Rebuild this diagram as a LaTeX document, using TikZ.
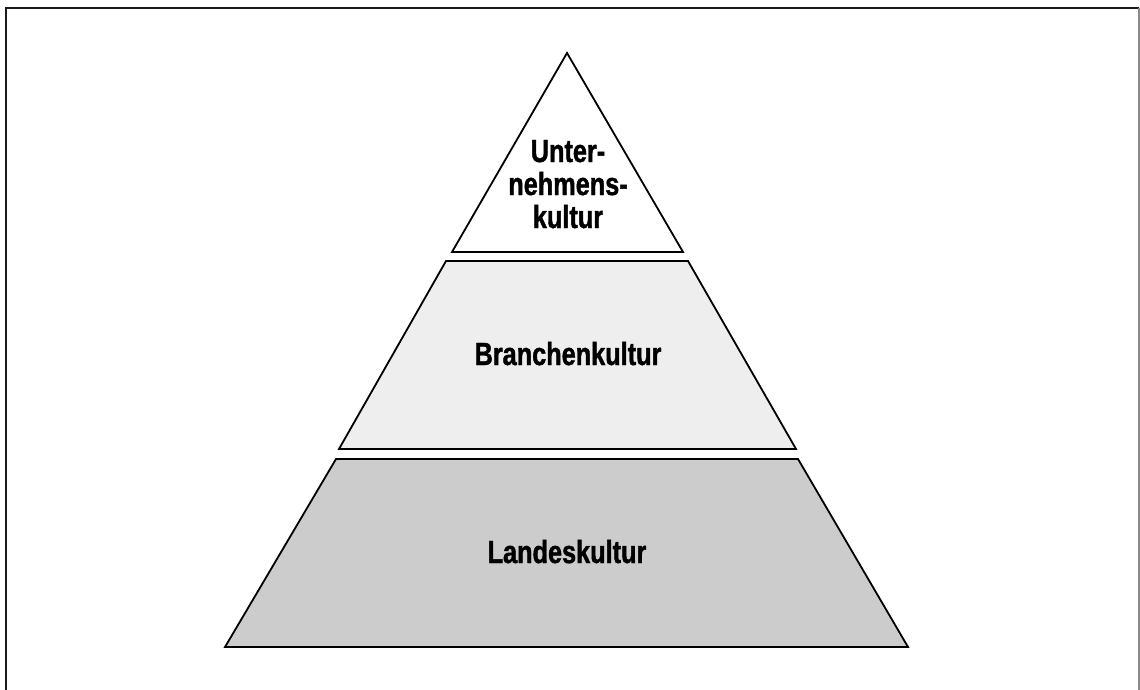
\documentclass[tikz,border=0pt]{standalone}
\usepackage{fontspec}
\setmainfont[FakeStretch=0.79, BoldFeatures={FakeBold=1.3}]{Liberation Sans}
\definecolor{top}{HTML}{FFFFFF}
\definecolor{mid}{HTML}{EEEEEE}
\definecolor{base}{HTML}{CCCCCC}
\definecolor{frame}{HTML}{1A1A1A}
\definecolor{frameside}{HTML}{8A8A8A}
\tikzset{
  tier/.style={draw=black, line width=1.8pt, line join=miter},
  lbl/.style={font=\fontsize{32}{33}\selectfont\bfseries, anchor=base, align=center, inner sep=0pt},
}

\begin{document}
\begin{tikzpicture}[x=1pt, y=-1pt]
\useasboundingbox (0,0) rectangle (1140,690);

% frame, open at the bottom
\draw[line width=2pt, draw=frame] (6,700) |- (1139,8);
\draw[line width=1.5pt, draw=frameside] (1139,8) -- (1139,700);

% ---------------- tiers ----------------
\coordinate (apex) at (567,53);
\coordinate (t1l) at (452,252); \coordinate (t1r) at (683,252);
\coordinate (t2a) at (446,261); \coordinate (t2b) at (688,261);
\coordinate (t2c) at (796,449); \coordinate (t2d) at (339,449);
\coordinate (t3a) at (336,459); \coordinate (t3b) at (798,459);
\coordinate (t3c) at (908,647); \coordinate (t3d) at (225,647);

\draw[tier, fill=top] (apex) -- (t1r) -- (t1l) -- cycle;
\draw[tier, fill=mid] (t2a) -- (t2b) -- (t2c) -- (t2d) -- cycle;
\draw[tier, fill=base] (t3a) -- (t3b) -- (t3c) -- (t3d) -- cycle;

% labels (base = last line)
\node[lbl] (firm) at (568,228) {Unter-\\nehmens-\\kultur};
\node[lbl] (branch) at (568,365) {Branchenkultur};
\node[lbl] (country) at (567,563) {Landeskultur};
\end{tikzpicture}
\end{document}
